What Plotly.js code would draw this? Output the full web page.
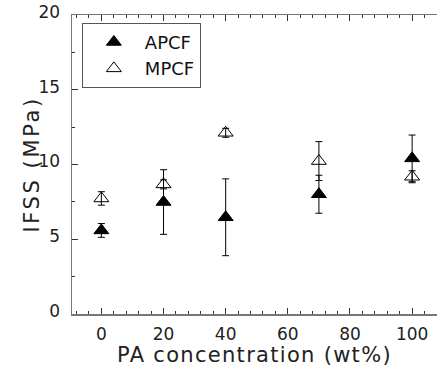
<!DOCTYPE html>
<html>
<head>
<meta charset="utf-8">
<script src="https://cdn.plot.ly/plotly-3.0.1.min.js"></script>
<style>
html,body{margin:0;padding:0;overflow:hidden;background:#fff;}
#chart{width:437px;height:367px;}
.xtitle{letter-spacing:1.3px;}
.annotation-text{letter-spacing:2.6px;}
</style>
</head>
<body>
<div id="chart"></div>
<script>
const xValues = [0, 20, 40, 70, 100];
const apcfIFSS = [5.59, 7.49, 6.47, 8.01, 10.41];
const apcfErr = [0.46, 2.16, 2.57, 1.27, 1.56];
const mpcfIFSS = [7.73, 8.67, 12.12, 10.23, 9.18];
const mpcfErr = [0.45, 0.3, 0.3, 1.3, 0.4];
const seriesNames = ['APCF', 'MPCF'];
const xTitle = 'PA concentration (wt%)';
const yTitle = 'IFSS (MPa)';

const FONT = '"DejaVu Sans", "Open Sans", sans-serif';

const traces = [
  {
    x: xValues, y: apcfIFSS, name: seriesNames[0], type: 'scatter', mode: 'markers',
    marker: {symbol: 'triangle-up', size: 13, color: '#000', line: {color: '#000', width: 1}},
    error_y: {type: 'data', array: apcfErr, visible: true, color: '#000', thickness: 1, width: 3.5}
  },
  {
    x: xValues, y: mpcfIFSS, name: seriesNames[1], type: 'scatter', mode: 'markers',
    marker: {symbol: 'triangle-up-open', size: 13, color: '#000', line: {color: '#000', width: 1}},
    error_y: {type: 'data', array: mpcfErr, visible: true, color: '#000', thickness: 1, width: 3.5}
  }
];

const axisCommon = {
  showline: true, linecolor: '#777', linewidth: 1.5,
  ticks: 'inside', tickcolor: '#333', tickwidth: 1, ticklen: 6,
  showgrid: false, zeroline: false,
  tickfont: {family: FONT, size: 17, color: '#222'}
};

const layout = {
  width: 437, height: 367,
  margin: {l: 72, r: 0, t: 15, b: 53},
  paper_bgcolor: '#fff', plot_bgcolor: '#fff',
  showlegend: true,
  legend: {
    x: 0.027, y: 0.974, xanchor: 'left', yanchor: 'top',
    bordercolor: '#555', borderwidth: 1, bgcolor: '#fff',
    font: {family: FONT, size: 18, color: '#111'},
    itemwidth: 52
  },
  xaxis: Object.assign({}, axisCommon, {
    range: [-9.45, 108], tick0: 0, dtick: 20, mirror: 'ticks',
    minor: {dtick: 4, ticks: 'inside', ticklen: 3, tickcolor: '#333'},
    ticklabelstandoff: 4,
    title: {text: xTitle, font: {family: FONT, size: 21, color: '#222'}, standoff: 13}
  }),
  yaxis: Object.assign({}, axisCommon, {
    range: [0, 20], tick0: 0, dtick: 5, mirror: false,
    minor: {dtick: 2.5, ticks: 'inside', ticklen: 3, tickcolor: '#333'},
    ticklabelstandoff: 7, ticklabelshift: -3
  }),
  annotations: [{
    text: yTitle, textangle: -90, showarrow: false,
    xref: 'paper', yref: 'paper', x: -0.112, y: 0.5, xanchor: 'center', yanchor: 'middle',
    font: {family: FONT, size: 21, color: '#222'}
  }]
};

Plotly.newPlot('chart', traces, layout, {displayModeBar: false, staticPlot: true});
</script>
</body>
</html>
